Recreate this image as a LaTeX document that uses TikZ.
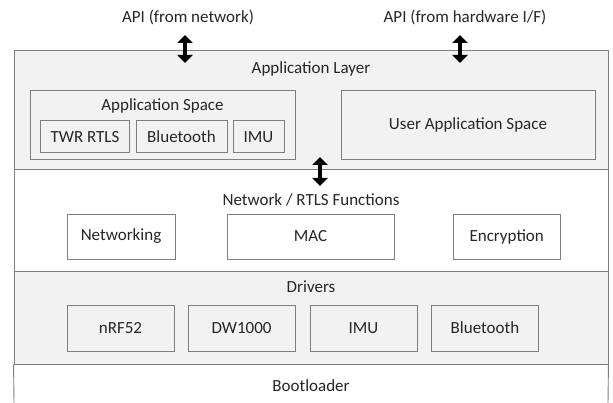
\documentclass[tikz,border=0pt]{standalone}
\usepackage{fontspec}
\setmainfont{Carlito}
\usetikzlibrary{arrows.meta}
\definecolor{boxgray}{HTML}{F2F2F2}
\definecolor{linegray}{HTML}{7F7F7F}
\definecolor{textgray}{HTML}{262626}
\begin{document}
\begin{tikzpicture}[x=1pt,y=-1pt,
    font=\fontsize{17}{20}\selectfont,text=textgray,
    layer/.style={draw=linegray,line width=0.9pt,inner sep=0pt,minimum width=594pt},
    block/.style={draw=linegray,line width=0.9pt,inner sep=0pt},
    api/.style={line width=3.5pt,{Triangle[width=15pt,length=8pt]}-{Triangle[width=15pt,length=8pt]}}]
	\useasboundingbox (0,0) rectangle (613,403);
	% layers
	\node[layer,fill=boxgray,minimum height=118.6pt] (applayer) at (311,110) {};
	\node[layer,fill=white,minimum height=102.4pt] (netlayer) at (311,220.5) {};
	\node[layer,fill=boxgray,minimum height=92.3pt] (drvlayer) at (311,317.85) {};
	\coordinate (bootL) at (14,403);
	\coordinate (bootR) at (608,403);
	\draw[draw=linegray,line width=0.9pt] (drvlayer.south west) -- (bootL);
	\draw[draw=linegray,line width=0.9pt] (drvlayer.south east) -- (bootR);
	% layer titles
	\node (apptitle) at (311,69) {Application Layer};
	\node (nettitle) at (311,200) {Network / RTLS Functions};
	\node (drvtitle) at (311,287) {Drivers};
	\node (boottitle) at (311,386) {Bootloader};
	% application layer
	\node[block,minimum width=265pt,minimum height=69.3pt] (appspace) at (162.5,125.3) {};
	\node (appspacetitle) at (162.5,106) {Application Space};
	\node[block,minimum width=88.7pt,minimum height=32.3pt] (twr) at (85,136.8) {TWR RTLS};
	\node[block,minimum width=91pt,minimum height=32.3pt] (appbt) at (181.5,136.8) {Bluetooth};
	\node[block,minimum width=51pt,minimum height=32.3pt] (appimu) at (258.5,136.8) {IMU};
	\node[block,minimum width=254pt,minimum height=69.3pt] (userspace) at (468,125.3) {User Application Space};
	% network layer
	\node[block,minimum width=108pt,minimum height=45pt] (networking) at (121,236.5) {Networking};
	\node[block,minimum width=167pt,minimum height=45pt] (mac) at (310.5,236.5) {MAC};
	\node[block,minimum width=106.5pt,minimum height=45pt] (encryption) at (506.7,236.5) {Encryption};
	% drivers
	\node[block,minimum width=107pt,minimum height=46pt] (nrf) at (120.5,328) {nRF52};
	\node[block,minimum width=107pt,minimum height=46pt] (dw) at (241.5,328) {DW1000};
	\node[block,minimum width=107pt,minimum height=46pt] (drvimu) at (363.5,328) {IMU};
	\node[block,minimum width=107pt,minimum height=46pt] (drvbt) at (485,328) {Bluetooth};
	% APIs
	\node (apinet) at (188,17) {API (from network)};
	\node (apihw) at (465,17) {API (from hardware I/F)};
	\coordinate (netTop) at (185,35);
	\coordinate (netBot) at (185,63);
	\coordinate (hwTop) at (460,35);
	\coordinate (hwBot) at (460,63);
	\coordinate (midTop) at (320,157);
	\coordinate (midBot) at (320,186);
	\draw[api] (netTop) -- (netBot);
	\draw[api] (hwTop) -- (hwBot);
	\draw[api] (midTop) -- (midBot);
\end{tikzpicture}
\end{document}
